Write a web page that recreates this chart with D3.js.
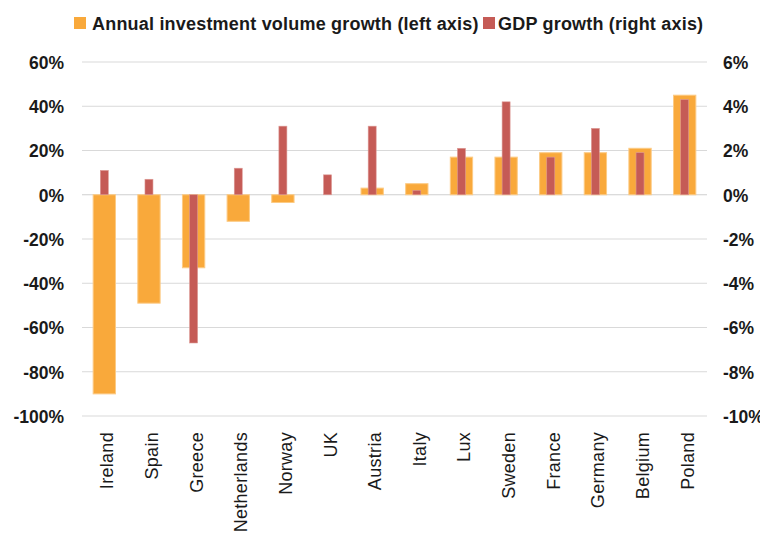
<!DOCTYPE html>
<html>
<head>
<meta charset="utf-8">
<script src="https://cdn.jsdelivr.net/npm/d3@7"></script>
<style>
  html, body { margin: 0; padding: 0; background: #fff; }
  svg { display: block; }
  text { font-family: "Liberation Sans", Arial, sans-serif; fill: #1a1a1a; }
</style>
</head>
<body>
<svg id="chart" width="760" height="533"></svg>
<script>
// Countries, ordered by investment volume growth
const countries = ["Ireland", "Spain", "Greece", "Netherlands", "Norway", "UK", "Austria",
  "Italy", "Lux", "Sweden", "France", "Germany", "Belgium", "Poland"];
// Annual investment volume growth, % (left axis)
const investmentGrowth = [-90, -49, -33, -12, -3.5, 0, 3, 5, 17, 17, 19, 19, 21, 45];
// GDP growth, % (right axis)
const gdpGrowth = [1.1, 0.7, -6.7, 1.2, 3.1, 0.9, 3.1, 0.2, 2.1, 4.2, 1.7, 3.0, 1.9, 4.3];
// Axis ticks
const leftTicks = [60, 40, 20, 0, -20, -40, -60, -80, -100];
const rightTicks = [6, 4, 2, 0, -2, -4, -6, -8, -10];

const seriesNames = ["Annual investment volume growth (left axis)", "GDP growth (right axis)"];
const colInvest = "#F9A93B";
const colInvestEdge = "#FCCB85";
const colGdp = "#C55B56";

const svg = d3.select("#chart");
const plot = { left: 82, right: 707, top: 62, bottom: 416 };

const x = d3.scaleBand().domain(countries).range([plot.left, plot.right]).padding(0);
const yL = d3.scaleLinear().domain([-100, 60]).range([plot.bottom, plot.top]);
const yR = d3.scaleLinear().domain([-10, 6]).range([plot.bottom, plot.top]);

// Gridlines
svg.append("g").selectAll("line").data(leftTicks).join("line")
  .attr("x1", plot.left).attr("x2", plot.right)
  .attr("y1", d => yL(d)).attr("y2", d => yL(d))
  .attr("stroke", d => d === 0 ? "#cfcfcf" : "#d9d9d9").attr("stroke-width", 1);

// Left axis
const leftAxis = svg.append("g").attr("transform", `translate(${plot.left - 18},0)`)
  .call(d3.axisLeft(yL).tickValues(leftTicks).tickSize(0).tickPadding(0).tickFormat(d => d + "%"));
leftAxis.select(".domain").remove();
leftAxis.selectAll("text").style("font-size", "17.5px").style("font-weight", "bold")
  .attr("dy", "0.36em");

// Right axis
const rightAxis = svg.append("g").attr("transform", `translate(${plot.right + 16},0)`)
  .call(d3.axisRight(yR).tickValues(rightTicks).tickSize(0).tickPadding(0).tickFormat(d => d + "%"));
rightAxis.select(".domain").remove();
rightAxis.selectAll("text").style("font-size", "17.5px").style("font-weight", "bold")
  .attr("dy", "0.36em");

// Investment bars (wide)
const wInvest = x.bandwidth() * 0.5;
svg.append("g").selectAll("rect").data(countries).join("rect")
  .attr("x", d => x(d) + (x.bandwidth() - wInvest) / 2)
  .attr("width", wInvest)
  .attr("y", (d, i) => yL(Math.max(0, investmentGrowth[i])))
  .attr("height", (d, i) => Math.abs(yL(investmentGrowth[i]) - yL(0)))
  .attr("fill", colInvest)
  .attr("stroke", colInvestEdge).attr("stroke-width", 1);

// GDP bars (narrow, drawn over)
const wGdp = 8;
svg.append("g").selectAll("rect").data(countries).join("rect")
  .attr("x", d => x(d) + (x.bandwidth() - wGdp) / 2)
  .attr("width", wGdp)
  .attr("y", (d, i) => yR(Math.max(0, gdpGrowth[i])))
  .attr("height", (d, i) => Math.abs(yR(gdpGrowth[i]) - yR(0)))
  .attr("fill", colGdp)
  .attr("stroke", "#dd9a96").attr("stroke-width", 0.6);

// Category labels, rotated
svg.append("g").selectAll("text").data(countries).join("text")
  .attr("transform", d => `translate(${x(d) + x.bandwidth() / 2 + 9},432) rotate(-90)`)
  .attr("text-anchor", "end")
  .style("font-size", "18px")
  .style("letter-spacing", "0.3px")
  .text(d => d);

// Legend
const legend = svg.append("g").attr("transform", "translate(74,0)");
legend.append("rect").attr("x", 0).attr("y", 17).attr("width", 12).attr("height", 12).attr("fill", colInvest);
legend.append("text").attr("x", 18).attr("y", 29.5).style("font-size", "18px").style("font-weight", "bold")
  .style("letter-spacing", "0.2px")
  .text(seriesNames[0]);
legend.append("rect").attr("x", 409).attr("y", 17).attr("width", 12).attr("height", 12).attr("fill", colGdp);
legend.append("text").attr("x", 424).attr("y", 29.5).style("font-size", "18px").style("font-weight", "bold")
  .style("letter-spacing", "0.2px")
  .text(seriesNames[1]);
</script>
</body>
</html>
